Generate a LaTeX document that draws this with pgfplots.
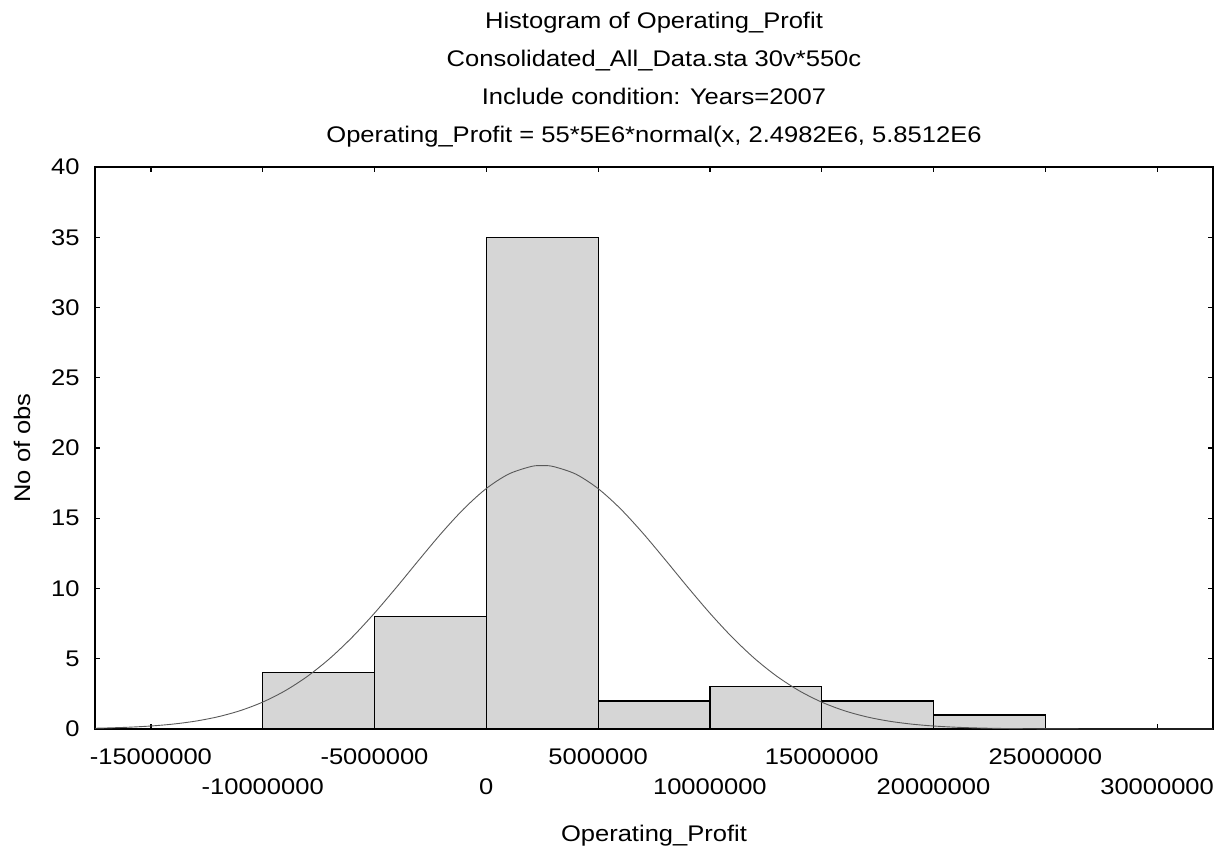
\documentclass[border=0pt]{standalone}
\usepackage{fontspec}
\setmainfont{Liberation Sans}[FakeStretch=1.13]
\usepackage{pgfplots}
\pgfplotsset{compat=1.18}

\begin{document}
\begin{tikzpicture}
\begin{axis}[
  at={(0,0)}, anchor=south west,
  scale only axis, width=559pt, height=281pt,
  xmin=-17500000, xmax=32500000, ymin=0, ymax=40,
  axis line style={line width=0.6pt},
  scaled ticks=false,
  xtick={-15000000,-5000000,5000000,15000000,25000000},
  xticklabels={-15000000,-5000000,5000000,15000000,25000000},
  extra x ticks={-10000000,0,10000000,20000000,30000000},
  extra x tick labels={-10000000,0,10000000,20000000,30000000},
  extra x tick style={xticklabel style={yshift=-15pt}},
  ytick={0,5,...,40},
  tick align=inside, major tick length=2.5pt,
  tick style={black, line width=0.6pt},
  xticklabel style={anchor=center, yshift=-14pt},
  yticklabel style={anchor=east, inner sep=0pt, xshift=-7.5pt},
  /pgf/number format/assume math mode=true,
  font=\fontsize{11.3}{13.5}\selectfont,
  xlabel={Operating\_Profit},
  ylabel={No of obs},
  xlabel style={at={(axis description cs:0.5,0)}, anchor=center, yshift=-53.5pt},
  ylabel style={at={(axis description cs:-0.0653,0.5)}, anchor=center},
  title={Histogram of Operating\_Profit\\
         Consolidated\_All\_Data.sta 30v*550c\\
         Include condition: Years=2007\\
         Operating\_Profit = 55*5E6*normal(x, 2.4982E6, 5.8512E6},
  title style={at={(axis description cs:0.5,1)}, anchor=center, yshift=37.75pt,
               align=center, inner sep=0pt, font=\fontsize{11.3}{19}\selectfont},
]
% histogram counts per 5,000,000 bin (last point closes the final interval)
\addplot[ybar interval, fill=black!16, draw=black, line width=0.6pt] coordinates {
  (-10000000,4) (-5000000,8) (0,35) (5000000,2) (10000000,3)
  (15000000,2) (20000000,1) (25000000,1)
};
% fitted normal curve
\addplot[smooth, no marks, draw=black!65, line width=0.45pt] coordinates {
  (-17500000,0.0545) (-17000000,0.0728) (-16000000,0.1267) (-15000000,0.2143)
  (-14000000,0.3521) (-13000000,0.5620) (-12000000,0.8707) (-11000000,1.3105)
  (-10000000,1.9155) (-9000000,2.7195) (-8000000,3.7497) (-7000000,5.0212)
  (-6000000,6.5307) (-5000000,8.2489) (-4000000,10.119) (-3000000,12.057)
  (-2000000,13.953) (-1000000,15.681) (0,17.117) (1000000,18.145)
  (2000000,18.682) (2500000,18.750) (3000000,18.681) (4000000,18.143)
  (5000000,17.112) (6000000,15.676) (7000000,13.946) (8000000,12.050)
  (9000000,10.113) (10000000,8.2425) (11000000,6.5248) (12000000,5.0166)
  (13000000,3.7461) (14000000,2.7167) (15000000,1.9129) (16000000,1.3083)
  (17000000,0.8694) (18000000,0.5610) (19000000,0.3515) (20000000,0.2139)
  (21000000,0.1265) (22000000,0.0726) (23000000,0.0404) (24000000,0.0219)
  (25000000,0.0115) (26000000,0.0059) (27000000,0.0029) (28000000,0.0014)
  (29000000,0.0007) (30000000,0.0003) (31000000,0.0001) (32500000,0.0000)
};
\end{axis}
\pgfresetboundingbox
\useasboundingbox (-47.5pt,-61.5pt) rectangle (564.5pt,364.5pt);
\end{tikzpicture}
\end{document}
